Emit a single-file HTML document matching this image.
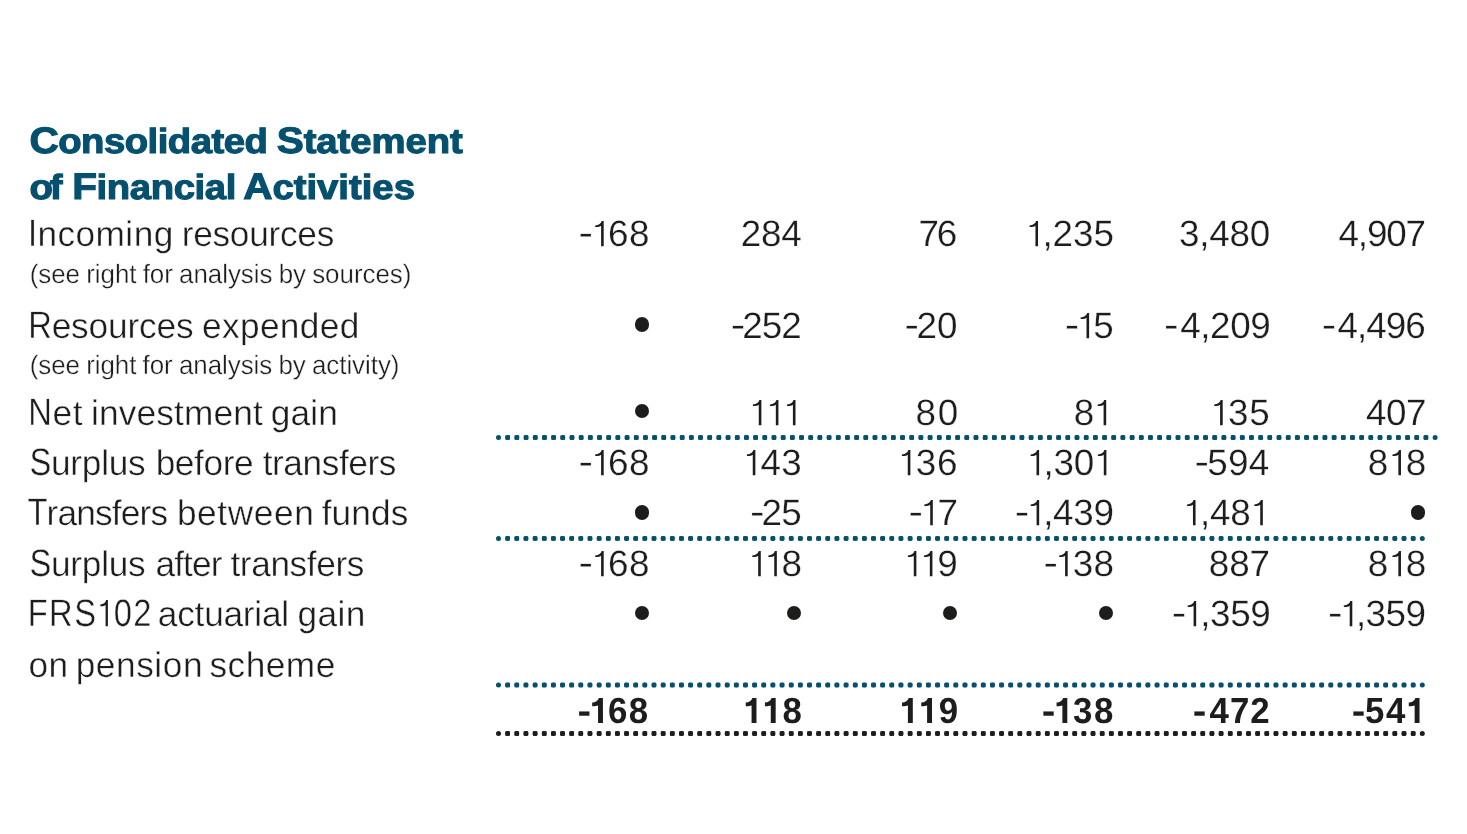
<!DOCTYPE html>
<html lang="en">
<head>
<meta charset="utf-8">
<title>Consolidated Statement of Financial Activities</title>
<style>
html,body{margin:0;padding:0;background:#fff}
#page{position:relative;width:1467px;height:834px;overflow:hidden;background:#fff;font-family:"Liberation Sans",sans-serif;will-change:transform;text-rendering:geometricPrecision}
.x{position:absolute;left:0;white-space:nowrap;line-height:1;margin:0;padding:0;transform-origin:0 0;letter-spacing:var(--ls,0px)}
.h{font-size:34.8px;font-weight:bold;color:#05506f;-webkit-text-stroke:1.1px #05506f;word-spacing:-2.0px;}
.b{font-size:35.4px;font-weight:normal;color:#1d1d1b;-webkit-text-stroke:0.4px #ffffff;word-spacing:-2.5px;}
.s{font-size:26.6px;font-weight:normal;color:#1d1d1b;-webkit-text-stroke:0.35px #ffffff;word-spacing:-1.0px;}
.n{font-size:36.7px;font-weight:normal;color:#1d1d1b;-webkit-text-stroke:0.25px #ffffff;}
.t{font-size:36.3px;font-weight:bold;color:#1d1d1b;}
.dot{position:absolute;width:14.2px;height:14.2px;border-radius:50%;background:#1d1d1b}
svg.rules{position:absolute;left:0;top:0}
.c{line-height:0}
.w{letter-spacing:var(--ls,0px)}
.h .c{font-size:106%}
.b .c{font-size:108%;display:inline-block;transform-origin:0 0;transform:scaleX(0.86)}
.m,.mb{display:inline-block;transform-origin:0 0}
.m{transform:translateY(-1px) scaleX(1.18)}
.mb{transform:scaleX(1.17)}
.g{margin-right:4.4px}
.one{display:inline-block;vertical-align:baseline;height:0.688em;fill:currentColor;margin-right:var(--ls,0px);overflow:visible}
</style>
</head>
<body>
<div id="page">
<div id="h1" class="x h" style="top:125px;transform:translateX(29.44px) scaleX(1.1)"><span id="h1w0" class="w" style="--ls:-0.472px"><span class="c">C</span>onsolidated</span> <span id="h1w1" class="w" style="--ls:-0.064px;margin-left:0.84px"><span class="c">S</span>tatement</span></div>
<div id="h2" class="x h" style="top:171px;transform:translateX(29.49px) scaleX(1.1)"><span id="h2w0" class="w" style="--ls:-2.740px">of</span> <span id="h2w1" class="w" style="--ls:-0.357px;margin-left:3.75px"><span class="c">F</span>inancial</span> <span id="h2w2" class="w" style="--ls:-0.005px;margin-left:-1.14px"><span class="c">A</span>ctivities</span></div>
<div id="l1" class="x b" style="top:217px;transform:translateX(27.96px) scaleX(0.995)"><span id="l1w0" class="w" style="--ls:0.444px"><span class="c" style="margin-right:-1.49px">I</span>ncoming</span> <span id="l1w1" class="w" style="--ls:-0.243px;margin-left:0.65px">resources</span></div>
<div id="l1s" class="x s" style="top:261px;transform:translateX(29.68px) scaleX(0.975);--ls:-0.032px">(see right for analysis by sources)</div>
<div id="l2" class="x b" style="top:309px;transform:translateX(28.17px) scaleX(0.995)"><span id="l2w0" class="w" style="--ls:-0.139px"><span class="c" style="margin-right:-3.87px">R</span>esources</span> <span id="l2w1" class="w" style="--ls:0.395px;margin-left:1.18px">expended</span></div>
<div id="l2s" class="x s" style="top:352px;transform:translateX(29.68px) scaleX(0.975);--ls:-0.042px">(see right for analysis by activity)</div>
<div id="l3" class="x b" style="top:396px;transform:translateX(28.17px) scaleX(0.995)"><span id="l3w0" class="w" style="--ls:0.675px"><span class="c" style="margin-right:-3.87px">N</span>et</span> <span id="l3w1" class="w" style="--ls:0.168px;margin-left:0.45px">investment</span> <span id="l3w2" class="w" style="--ls:0.155px;margin-left:0.63px">gain</span></div>
<div id="l4" class="x b" style="top:446px;transform:translateX(29.45px) scaleX(0.995)"><span id="l4w0" class="w" style="--ls:-0.243px"><span class="c" style="margin-right:-3.57px">S</span>urplus</span> <span id="l4w1" class="w" style="--ls:-0.384px;margin-left:2.86px">before</span> <span id="l4w2" class="w" style="--ls:-0.408px;margin-left:2.17px">transfers</span></div>
<div id="l5" class="x b" style="top:496px;transform:translateX(27.40px) scaleX(0.995)"><span id="l5w0" class="w" style="--ls:-0.826px"><span class="c" style="margin-right:-3.27px">T</span>ransfers</span> <span id="l5w1" class="w" style="--ls:0.618px;margin-left:2.41px">between</span> <span id="l5w2" class="w" style="--ls:0.167px;margin-left:-0.02px">funds</span></div>
<div id="l6" class="x b" style="top:547px;transform:translateX(29.45px) scaleX(0.995)"><span id="l6w0" class="w" style="--ls:-0.243px"><span class="c" style="margin-right:-3.57px">S</span>urplus</span> <span id="l6w1" class="w" style="--ls:-0.837px;margin-left:2.60px">after</span> <span id="l6w2" class="w" style="--ls:-0.388px;margin-left:1.47px">transfers</span></div>
<div id="l7" class="x b" style="top:597px;transform:translateX(27.71px) scaleX(0.995)"><span id="l7w0" class="w" style="--ls:1.668px"><span class="c" style="margin-right:-19.10px">FRS<svg class="one" viewBox="0 0 933 1409" style="width:0.4556em"><path transform="matrix(1 0 0 -1 0 1409)" d="M681 6H537V1140C497 1092 397 1071 209 1071V1162C405 1170 537 1256 572 1403H681Z"/></svg>02</span></span> <span id="l7w1" class="w" style="--ls:-0.227px;margin-left:-3.84px">actuarial</span> <span id="l7w2" class="w" style="--ls:0.457px;margin-left:1.25px">gain</span></div>
<div id="l8" class="x b" style="top:648px;transform:translateX(28.50px) scaleX(0.995)"><span id="l8w0" class="w" style="--ls:0.528px">on</span> <span id="l8w1" class="w" style="--ls:0.574px;margin-left:-0.32px">pension</span> <span id="l8w2" class="w" style="--ls:0.492px;margin-left:-0.87px">scheme</span></div>
<div id="r1c1" class="x n" style="top:216px;transform:translateX(578.39px) scaleX(1.004);--ls:0.338px"><span class="m">-</span><svg class="one" viewBox="0 0 933 1409" style="width:0.4556em"><path transform="matrix(1 0 0 -1 0 1409)" d="M681 6H537V1140C497 1092 397 1071 209 1071V1162C405 1170 537 1256 572 1403H681Z"/></svg>68</div>
<div id="r1c2" class="x n" style="top:216px;transform:translateX(740.87px) scaleX(1.004);--ls:-0.317px">284</div>
<div id="r1c3" class="x n" style="top:216px;transform:translateX(918.52px) scaleX(1.004);--ls:-2.277px">76</div>
<div id="r1c4" class="x n" style="top:216px;transform:translateX(1025.79px) scaleX(1.004);--ls:-0.098px"><svg class="one" viewBox="0 0 933 1409" style="width:0.4556em"><path transform="matrix(1 0 0 -1 0 1409)" d="M681 6H537V1140C497 1092 397 1071 209 1071V1162C405 1170 537 1256 572 1403H681Z"/></svg>,235</div>
<div id="r1c5" class="x n" style="top:216px;transform:translateX(1178.89px) scaleX(1.004);--ls:-0.210px">3,480</div>
<div id="r1c6" class="x n" style="top:216px;transform:translateX(1338.52px) scaleX(1.004);--ls:-1.154px">4,907</div>
<div id="r2c2" class="x n" style="top:308px;transform:translateX(730.87px) scaleX(1.004);--ls:-0.975px"><span class="m">-</span>252</div>
<div id="r2c3" class="x n" style="top:308px;transform:translateX(904.39px) scaleX(1.004);--ls:-0.061px"><span class="m">-</span>20</div>
<div id="r2c4" class="x n" style="top:308px;transform:translateX(1064.81px) scaleX(1.004);--ls:-0.357px"><span class="m">-</span><svg class="one" viewBox="0 0 933 1409" style="width:0.4556em"><path transform="matrix(1 0 0 -1 0 1409)" d="M681 6H537V1140C497 1092 397 1071 209 1071V1162C405 1170 537 1256 572 1403H681Z"/></svg>5</div>
<div id="r2c5" class="x n" style="top:308px;transform:translateX(1163.91px) scaleX(1.004);--ls:-0.415px"><span class="m g">-</span>4,209</div>
<div id="r2c6" class="x n" style="top:308px;transform:translateX(1321.87px) scaleX(1.004);--ls:-0.971px"><span class="m g">-</span>4,496</div>
<div id="r3c2" class="x n" style="top:395px;transform:translateX(749.11px) scaleX(1.004);--ls:0.114px"><svg class="one" viewBox="0 0 933 1409" style="width:0.4556em"><path transform="matrix(1 0 0 -1 0 1409)" d="M681 6H537V1140C497 1092 397 1071 209 1071V1162C405 1170 537 1256 572 1403H681Z"/></svg><svg class="one" viewBox="0 0 933 1409" style="width:0.4556em"><path transform="matrix(1 0 0 -1 0 1409)" d="M681 6H537V1140C497 1092 397 1071 209 1071V1162C405 1170 537 1256 572 1403H681Z"/></svg><svg class="one" viewBox="0 0 933 1409" style="width:0.4556em"><path transform="matrix(1 0 0 -1 0 1409)" d="M681 6H537V1140C497 1092 397 1071 209 1071V1162C405 1170 537 1256 572 1403H681Z"/></svg></div>
<div id="r3c3" class="x n" style="top:395px;transform:translateX(915.45px) scaleX(1.004);--ls:1.701px">80</div>
<div id="r3c4" class="x n" style="top:395px;transform:translateX(1073.86px) scaleX(1.004);--ls:-0.345px">8<svg class="one" viewBox="0 0 933 1409" style="width:0.4556em"><path transform="matrix(1 0 0 -1 0 1409)" d="M681 6H537V1140C497 1092 397 1071 209 1071V1162C405 1170 537 1256 572 1403H681Z"/></svg></div>
<div id="r3c5" class="x n" style="top:395px;transform:translateX(1210.43px) scaleX(1.004);--ls:0.808px"><svg class="one" viewBox="0 0 933 1409" style="width:0.4556em"><path transform="matrix(1 0 0 -1 0 1409)" d="M681 6H537V1140C497 1092 397 1071 209 1071V1162C405 1170 537 1256 572 1403H681Z"/></svg>35</div>
<div id="r3c6" class="x n" style="top:395px;transform:translateX(1366.08px) scaleX(1.004);--ls:-0.545px">407</div>
<div id="r4c1" class="x n" style="top:445px;transform:translateX(578.39px) scaleX(1.004);--ls:0.338px"><span class="m">-</span><svg class="one" viewBox="0 0 933 1409" style="width:0.4556em"><path transform="matrix(1 0 0 -1 0 1409)" d="M681 6H537V1140C497 1092 397 1071 209 1071V1162C405 1170 537 1256 572 1403H681Z"/></svg>68</div>
<div id="r4c2" class="x n" style="top:445px;transform:translateX(743.11px) scaleX(1.004);--ls:0.489px"><svg class="one" viewBox="0 0 933 1409" style="width:0.4556em"><path transform="matrix(1 0 0 -1 0 1409)" d="M681 6H537V1140C497 1092 397 1071 209 1071V1162C405 1170 537 1256 572 1403H681Z"/></svg>43</div>
<div id="r4c3" class="x n" style="top:445px;transform:translateX(898.11px) scaleX(1.004);--ls:0.853px"><svg class="one" viewBox="0 0 933 1409" style="width:0.4556em"><path transform="matrix(1 0 0 -1 0 1409)" d="M681 6H537V1140C497 1092 397 1071 209 1071V1162C405 1170 537 1256 572 1403H681Z"/></svg>36</div>
<div id="r4c4" class="x n" style="top:445px;transform:translateX(1026.86px) scaleX(1.004);--ls:-0.211px"><svg class="one" viewBox="0 0 933 1409" style="width:0.4556em"><path transform="matrix(1 0 0 -1 0 1409)" d="M681 6H537V1140C497 1092 397 1071 209 1071V1162C405 1170 537 1256 572 1403H681Z"/></svg>,30<svg class="one" viewBox="0 0 933 1409" style="width:0.4556em"><path transform="matrix(1 0 0 -1 0 1409)" d="M681 6H537V1140C497 1092 397 1071 209 1071V1162C405 1170 537 1256 572 1403H681Z"/></svg></div>
<div id="r4c5" class="x n" style="top:445px;transform:translateX(1194.50px) scaleX(1.004);--ls:0.357px"><span class="m">-</span>594</div>
<div id="r4c6" class="x n" style="top:445px;transform:translateX(1367.63px) scaleX(1.004);--ls:0.450px">8<svg class="one" viewBox="0 0 933 1409" style="width:0.4556em"><path transform="matrix(1 0 0 -1 0 1409)" d="M681 6H537V1140C497 1092 397 1071 209 1071V1162C405 1170 537 1256 572 1403H681Z"/></svg>8</div>
<div id="r5c2" class="x n" style="top:495px;transform:translateX(749.89px) scaleX(1.004);--ls:-0.756px"><span class="m">-</span>25</div>
<div id="r5c3" class="x n" style="top:495px;transform:translateX(908.51px) scaleX(1.004);--ls:-0.054px"><span class="m">-</span><svg class="one" viewBox="0 0 933 1409" style="width:0.4556em"><path transform="matrix(1 0 0 -1 0 1409)" d="M681 6H537V1140C497 1092 397 1071 209 1071V1162C405 1170 537 1256 572 1403H681Z"/></svg>7</div>
<div id="r5c4" class="x n" style="top:495px;transform:translateX(1014.87px) scaleX(1.004);--ls:-0.349px"><span class="m">-</span><svg class="one" viewBox="0 0 933 1409" style="width:0.4556em"><path transform="matrix(1 0 0 -1 0 1409)" d="M681 6H537V1140C497 1092 397 1071 209 1071V1162C405 1170 537 1256 572 1403H681Z"/></svg>,439</div>
<div id="r5c5" class="x n" style="top:495px;transform:translateX(1183.30px) scaleX(1.004);--ls:-0.201px"><svg class="one" viewBox="0 0 933 1409" style="width:0.4556em"><path transform="matrix(1 0 0 -1 0 1409)" d="M681 6H537V1140C497 1092 397 1071 209 1071V1162C405 1170 537 1256 572 1403H681Z"/></svg>,48<svg class="one" viewBox="0 0 933 1409" style="width:0.4556em"><path transform="matrix(1 0 0 -1 0 1409)" d="M681 6H537V1140C497 1092 397 1071 209 1071V1162C405 1170 537 1256 572 1403H681Z"/></svg></div>
<div id="r6c1" class="x n" style="top:546px;transform:translateX(578.39px) scaleX(1.004);--ls:0.338px"><span class="m">-</span><svg class="one" viewBox="0 0 933 1409" style="width:0.4556em"><path transform="matrix(1 0 0 -1 0 1409)" d="M681 6H537V1140C497 1092 397 1071 209 1071V1162C405 1170 537 1256 572 1403H681Z"/></svg>68</div>
<div id="r6c2" class="x n" style="top:546px;transform:translateX(748.53px) scaleX(1.004);--ls:-0.373px"><svg class="one" viewBox="0 0 933 1409" style="width:0.4556em"><path transform="matrix(1 0 0 -1 0 1409)" d="M681 6H537V1140C497 1092 397 1071 209 1071V1162C405 1170 537 1256 572 1403H681Z"/></svg><svg class="one" viewBox="0 0 933 1409" style="width:0.4556em"><path transform="matrix(1 0 0 -1 0 1409)" d="M681 6H537V1140C497 1092 397 1071 209 1071V1162C405 1170 537 1256 572 1403H681Z"/></svg>8</div>
<div id="r6c3" class="x n" style="top:546px;transform:translateX(904.11px) scaleX(1.004);--ls:-0.278px"><svg class="one" viewBox="0 0 933 1409" style="width:0.4556em"><path transform="matrix(1 0 0 -1 0 1409)" d="M681 6H537V1140C497 1092 397 1071 209 1071V1162C405 1170 537 1256 572 1403H681Z"/></svg><svg class="one" viewBox="0 0 933 1409" style="width:0.4556em"><path transform="matrix(1 0 0 -1 0 1409)" d="M681 6H537V1140C497 1092 397 1071 209 1071V1162C405 1170 537 1256 572 1403H681Z"/></svg>9</div>
<div id="r6c4" class="x n" style="top:546px;transform:translateX(1043.39px) scaleX(1.004);--ls:0.150px"><span class="m">-</span><svg class="one" viewBox="0 0 933 1409" style="width:0.4556em"><path transform="matrix(1 0 0 -1 0 1409)" d="M681 6H537V1140C497 1092 397 1071 209 1071V1162C405 1170 537 1256 572 1403H681Z"/></svg>38</div>
<div id="r6c5" class="x n" style="top:546px;transform:translateX(1208.81px) scaleX(1.004);--ls:-0.115px">887</div>
<div id="r6c6" class="x n" style="top:546px;transform:translateX(1367.63px) scaleX(1.004);--ls:0.450px">8<svg class="one" viewBox="0 0 933 1409" style="width:0.4556em"><path transform="matrix(1 0 0 -1 0 1409)" d="M681 6H537V1140C497 1092 397 1071 209 1071V1162C405 1170 537 1256 572 1403H681Z"/></svg>8</div>
<div id="r7c5" class="x n" style="top:596px;transform:translateX(1171.87px) scaleX(1.004);--ls:-0.357px"><span class="m">-</span><svg class="one" viewBox="0 0 933 1409" style="width:0.4556em"><path transform="matrix(1 0 0 -1 0 1409)" d="M681 6H537V1140C497 1092 397 1071 209 1071V1162C405 1170 537 1256 572 1403H681Z"/></svg>,359</div>
<div id="r7c6" class="x n" style="top:596px;transform:translateX(1328.00px) scaleX(1.004);--ls:-0.573px"><span class="m">-</span><svg class="one" viewBox="0 0 933 1409" style="width:0.4556em"><path transform="matrix(1 0 0 -1 0 1409)" d="M681 6H537V1140C497 1092 397 1071 209 1071V1162C405 1170 537 1256 572 1403H681Z"/></svg>,359</div>
<div id="t1" class="x t" style="top:693px;transform:translateX(577.38px) scaleX(0.96);--ls:1.430px"><span class="mb">-</span><svg class="one" viewBox="0 0 950 1409" style="width:0.4639em"><path transform="matrix(1 0 0 -1 0 1409)" d="M713 0H425V985C354 960 254 944 81 944V1155C284 1160 404 1250 474 1409H713Z"/></svg>68</div>
<div id="t2" class="x t" style="top:693px;transform:translateX(744.35px) scaleX(0.96);--ls:3.071px"><svg class="one" viewBox="0 0 950 1409" style="width:0.4639em"><path transform="matrix(1 0 0 -1 0 1409)" d="M713 0H425V985C354 960 254 944 81 944V1155C284 1160 404 1250 474 1409H713Z"/></svg><svg class="one" viewBox="0 0 950 1409" style="width:0.4639em"><path transform="matrix(1 0 0 -1 0 1409)" d="M713 0H425V985C354 960 254 944 81 944V1155C284 1160 404 1250 474 1409H713Z"/></svg>8</div>
<div id="t3" class="x t" style="top:693px;transform:translateX(900.68px) scaleX(0.96);--ls:3.001px"><svg class="one" viewBox="0 0 950 1409" style="width:0.4639em"><path transform="matrix(1 0 0 -1 0 1409)" d="M713 0H425V985C354 960 254 944 81 944V1155C284 1160 404 1250 474 1409H713Z"/></svg><svg class="one" viewBox="0 0 950 1409" style="width:0.4639em"><path transform="matrix(1 0 0 -1 0 1409)" d="M713 0H425V985C354 960 254 944 81 944V1155C284 1160 404 1250 474 1409H713Z"/></svg>9</div>
<div id="t4" class="x t" style="top:693px;transform:translateX(1041.73px) scaleX(0.96);--ls:1.773px"><span class="mb">-</span><svg class="one" viewBox="0 0 950 1409" style="width:0.4639em"><path transform="matrix(1 0 0 -1 0 1409)" d="M713 0H425V985C354 960 254 944 81 944V1155C284 1160 404 1250 474 1409H713Z"/></svg>38</div>
<div id="t5" class="x t" style="top:693px;transform:translateX(1192.73px) scaleX(0.96);--ls:1.049px"><span class="mb g">-</span>472</div>
<div id="t6" class="x t" style="top:693px;transform:translateX(1351.73px) scaleX(0.96);--ls:1.748px"><span class="mb">-</span>54<svg class="one" viewBox="0 0 950 1409" style="width:0.4639em"><path transform="matrix(1 0 0 -1 0 1409)" d="M713 0H425V985C354 960 254 944 81 944V1155C284 1160 404 1250 474 1409H713Z"/></svg></div>
<div class="dot" style="left:634.70px;top:317.40px"></div>
<div class="dot" style="left:634.70px;top:404.30px"></div>
<div class="dot" style="left:634.70px;top:505.40px"></div>
<div class="dot" style="left:1410.70px;top:505.40px"></div>
<div class="dot" style="left:634.70px;top:606.30px"></div>
<div class="dot" style="left:786.60px;top:606.30px"></div>
<div class="dot" style="left:942.80px;top:606.30px"></div>
<div class="dot" style="left:1098.80px;top:606.30px"></div>
<svg class="rules" width="1467" height="834" viewBox="0 0 1467 834">
<line x1="498.50" y1="437.50" x2="1435.11" y2="437.50" stroke="#05506f" stroke-width="5.0" stroke-linecap="round" stroke-dasharray="0 9.1824"/>
<line x1="505.48" y1="437.50" x2="1428.12" y2="437.50" stroke="#05506f" stroke-width="4.4" stroke-dasharray="4.4 4.7824"/>
<line x1="498.50" y1="538.40" x2="1422.31" y2="538.40" stroke="#05506f" stroke-width="5.0" stroke-linecap="round" stroke-dasharray="0 9.1465"/>
<line x1="505.45" y1="538.40" x2="1415.35" y2="538.40" stroke="#05506f" stroke-width="4.4" stroke-dasharray="4.4 4.7465"/>
<line x1="498.50" y1="685.00" x2="1422.31" y2="685.00" stroke="#05506f" stroke-width="5.0" stroke-linecap="round" stroke-dasharray="0 9.1465"/>
<line x1="505.45" y1="685.00" x2="1415.35" y2="685.00" stroke="#05506f" stroke-width="4.4" stroke-dasharray="4.4 4.7465"/>
<line x1="498.50" y1="733.50" x2="1422.31" y2="733.50" stroke="#1d1d1b" stroke-width="5.0" stroke-linecap="round" stroke-dasharray="0 9.1465"/>
<line x1="505.45" y1="733.50" x2="1415.35" y2="733.50" stroke="#1d1d1b" stroke-width="4.4" stroke-dasharray="4.4 4.7465"/>
</svg>
</div>
</body>
</html>
